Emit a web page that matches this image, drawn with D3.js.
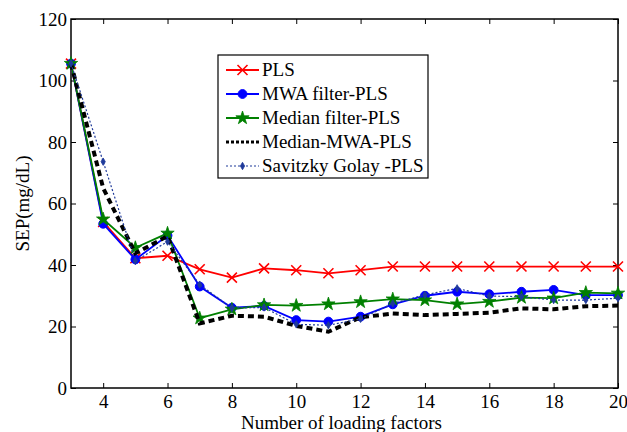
<!DOCTYPE html>
<html>
<head>
<meta charset="utf-8">
<script src="https://cdn.jsdelivr.net/npm/d3@7/dist/d3.min.js"></script>
<style>
  body { margin: 0; background: #fff; }
  svg { display: block; font-family: "Liberation Serif", "Times New Roman", serif; }
</style>
</head>
<body>
<div id="chart"></div>
<script>
// loading factors
var factors = [3, 4, 5, 6, 7, 8, 9, 10, 11, 12, 13, 14, 15, 16, 17, 18, 19, 20];

var plsValues       = [105.5, 54.0, 42.2, 43.0, 38.6, 35.9, 38.9, 38.3, 37.3, 38.3, 39.5, 39.5, 39.5, 39.5, 39.5, 39.5, 39.5, 39.5];
var mwaValues       = [105.5, 53.4, 41.8, 49.6, 33.0, 26.1, 26.7, 22.1, 21.6, 23.2, 27.2, 30.0, 31.3, 30.5, 31.3, 31.9, 30.2, 30.2];
var medianValues    = [105.5, 54.9, 45.6, 50.3, 22.7, 25.6, 27.0, 26.8, 27.3, 28.0, 28.9, 28.6, 27.3, 28.1, 29.4, 29.2, 31.0, 30.8];
var medMwaValues    = [105.5, 65.0, 43.8, 49.4, 21.0, 23.5, 23.2, 20.2, 18.3, 23.0, 24.2, 23.7, 24.1, 24.5, 25.9, 25.6, 26.6, 26.8];
var savGolayValues  = [105.5, 73.6, 41.3, 47.6, 33.6, 26.0, 26.2, 20.7, 20.4, 22.5, 27.5, 30.3, 32.4, 29.9, 29.7, 28.6, 28.6, 29.2];

var seriesNames = ["PLS", "MWA filter-PLS", "Median filter-PLS", "Median-MWA-PLS", "Savitzky Golay -PLS"];
var xTicks = [4, 6, 8, 10, 12, 14, 16, 18, 20];
var yTicks = [0, 20, 40, 60, 80, 100, 120];

var width = 627, height = 432;
var plotLeft = 71, plotRight = 618, plotTop = 19, plotBottom = 388;
var fontSize = "19px";

var styles = [
    { color: "#ff0000", width: 1.8, dash: null, marker: "cross" },
    { color: "#0000ff", width: 1.8, dash: null, marker: "circle" },
    { color: "#008000", width: 1.8, dash: null, marker: "star" },
    { color: "#000000", width: 4, dash: "6,4", marker: null },
    { color: "#1f3a9a", width: 1.2, dash: "2,2", marker: "diamond" }
];

var allValues = [plsValues, mwaValues, medianValues, medMwaValues, savGolayValues];

var svg = d3.select("#chart").append("svg")
    .attr("width", width)
    .attr("height", height);

var x = d3.scaleLinear().domain([3, 20]).range([plotLeft, plotRight]);
var y = d3.scaleLinear().domain([0, 120]).range([plotBottom, plotTop]);

// frame
svg.append("rect")
    .attr("x", plotLeft).attr("y", plotTop)
    .attr("width", plotRight - plotLeft).attr("height", plotBottom - plotTop)
    .attr("fill", "none").attr("stroke", "#000").attr("stroke-width", 1.5);

var tickFont = function (g) {
    g.selectAll("text").attr("font-size", fontSize).attr("fill", "#000")
        .attr("font-family", "'Liberation Serif', 'Times New Roman', serif");
    g.select(".domain").remove();
    g.selectAll("line").attr("stroke", "#000").attr("stroke-width", 1);
};

svg.append("g")
    .attr("transform", `translate(0,${plotBottom})`)
    .call(d3.axisBottom(x).tickValues(xTicks).tickSize(-5).tickPadding(7).tickFormat(d3.format("d")))
    .call(tickFont);

svg.append("g")
    .attr("transform", `translate(0,${plotTop})`)
    .call(d3.axisTop(x).tickValues(xTicks).tickSize(-5).tickFormat(""))
    .call(tickFont);

svg.append("g")
    .attr("transform", `translate(${plotLeft},0)`)
    .call(d3.axisLeft(y).tickValues(yTicks).tickSize(-5).tickPadding(4))
    .call(tickFont);

svg.append("g")
    .attr("transform", `translate(${plotRight},0)`)
    .call(d3.axisRight(y).tickValues(yTicks).tickSize(-5).tickFormat(""))
    .call(tickFont);

// axis titles
svg.append("text")
    .attr("x", (plotLeft + plotRight) / 2 - 3).attr("y", 429)
    .attr("text-anchor", "middle")
    .attr("font-size", fontSize)
    .text("Number of loading factors");

svg.append("text")
    .attr("transform", `translate(29,${(plotTop + plotBottom) / 2}) rotate(-90)`)
    .attr("text-anchor", "middle")
    .attr("font-size", fontSize)
    .text("SEP(mg/dL)");

function drawMarker(g, type, color) {
    if (type === "cross") {
        g.append("path").attr("d", "M-5,-5L5,5M-5,5L5,-5")
            .attr("stroke", color).attr("stroke-width", 1.6).attr("fill", "none");
    } else if (type === "circle") {
        g.append("circle").attr("r", 4.4).attr("fill", color).attr("stroke", color);
    } else if (type === "star") {
        g.append("path").attr("d", d3.symbol(d3.symbolStar, 55)())
            .attr("fill", color).attr("stroke", color).attr("stroke-width", 0.8);
    } else if (type === "diamond") {
        g.append("path").attr("d", d3.symbol(d3.symbolDiamond, 16)())
            .attr("fill", color).attr("stroke", color).attr("stroke-width", 0.8);
    }
}

var line = d3.line()
    .x(function (d, i) { return x(factors[i]); })
    .y(function (d) { return y(d); });

allValues.forEach(function (vals, k) {
    var s = styles[k];
    svg.append("path")
        .datum(vals)
        .attr("d", line)
        .attr("fill", "none")
        .attr("stroke", s.color)
        .attr("stroke-width", s.width)
        .attr("stroke-dasharray", s.dash);
    if (s.marker) {
        vals.forEach(function (v, i) {
            var g = svg.append("g").attr("transform", `translate(${x(factors[i])},${y(v)})`);
            drawMarker(g, s.marker, s.color);
        });
    }
});

// legend
var legend = svg.append("g");
legend.append("rect")
    .attr("x", 218).attr("y", 55)
    .attr("width", 210).attr("height", 123)
    .attr("fill", "#fff").attr("stroke", "#000").attr("stroke-width", 1.2);

seriesNames.forEach(function (name, k) {
    var s = styles[k];
    var ly = 70 + k * 24;
    legend.append("line")
        .attr("x1", 226).attr("x2", 259)
        .attr("y1", ly).attr("y2", ly)
        .attr("stroke", s.color)
        .attr("stroke-width", k === 3 ? 3 : s.width)
        .attr("stroke-dasharray", k === 3 ? "3,2" : s.dash);
    if (s.marker) {
        drawMarker(legend.append("g").attr("transform", `translate(242.5,${ly})`), s.marker, s.color);
    }
    legend.append("text")
        .attr("x", 262).attr("y", ly + 6)
        .attr("font-size", fontSize)
        .text(name);
});
</script>
</body>
</html>
